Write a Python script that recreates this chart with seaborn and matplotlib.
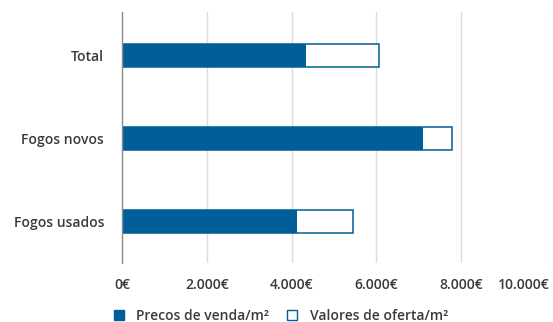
import matplotlib
matplotlib.use("Agg")
import matplotlib.pyplot as plt
import matplotlib.transforms as mtransforms
from matplotlib.patches import Patch
import seaborn as sns
import pandas as pd

categories = ["Total", "Fogos novos", "Fogos usados"]
precos_venda = [4350, 7110, 4130]
valores_oferta = [6070, 7780, 5460]
tick_values = [0, 2000, 4000, 6000, 8000, 10000]
tick_labels = ["0€", "2.000€", "4.000€", "6.000€", "8.000€", "10.000€"]

BLUE = "#005f98"
TXT = "#3a3a3a"
FS = 10
FW = 600

sns.set_theme(style="white")
plt.rcParams["font.family"] = ["Open Sans", "DejaVu Sans"]
plt.rcParams["font.weight"] = FW

df = pd.DataFrame({"cat": categories, "venda": precos_venda, "oferta": valores_oferta})

fig = plt.figure(figsize=(5.53, 3.22), dpi=100)
ax = fig.add_axes([122.3 / 553, 1 - 263 / 322, 423.4 / 553, 251 / 322])

sns.barplot(data=df, y="cat", x="oferta", order=categories, color="white",
            edgecolor=BLUE, linewidth=1.1, width=0.28, ax=ax, zorder=3)
sns.barplot(data=df, y="cat", x="venda", order=categories, color=BLUE,
            edgecolor=BLUE, linewidth=0, width=0.28, ax=ax, zorder=4, saturation=1)

ax.set_xlim(0, 10000)
ax.set_ylim(2.5, -0.52)
ax.set_xticks(tick_values)
ax.set_xticklabels(tick_labels)
ax.set_xlabel("")
ax.set_ylabel("")
for v in tick_values[1:]:
    ax.axvline(v, color="#dcdcdc", lw=1, zorder=1)
for s in ["top", "right", "bottom"]:
    ax.spines[s].set_visible(False)
ax.spines["left"].set_color("#8c8c8c")
ax.spines["left"].set_linewidth(1)
ax.spines["left"].set_zorder(5)

ax.tick_params(axis="x", length=0, pad=11, labelsize=FS, colors=TXT)
ax.tick_params(axis="y", length=0, pad=13, labelsize=FS, colors=TXT)
for lab in ax.get_yticklabels() + ax.get_xticklabels():
    lab.set_color(TXT)
    lab.set_fontweight(FW)
xl = ax.get_xticklabels()
xl[-1].set_transform(xl[-1].get_transform() + mtransforms.ScaledTranslation(-0.22, 0, fig.dpi_scale_trans))

handles = [Patch(facecolor=BLUE, edgecolor=BLUE, linewidth=1),
           Patch(facecolor="white", edgecolor=BLUE, linewidth=1)]
leg = fig.legend(handles, ["Precos de venda/m²", "Valores de oferta/m²"],
                 loc="center", bbox_to_anchor=(281 / 553, 1 - 316 / 322), ncol=2,
                 frameon=False, fontsize=FS, handlelength=0.7, handleheight=0.7,
                 handletextpad=0.9, columnspacing=1.3)
for t in leg.get_texts():
    t.set_color(TXT)
    t.set_fontweight(FW)

fig.savefig("out.png", dpi=100)
